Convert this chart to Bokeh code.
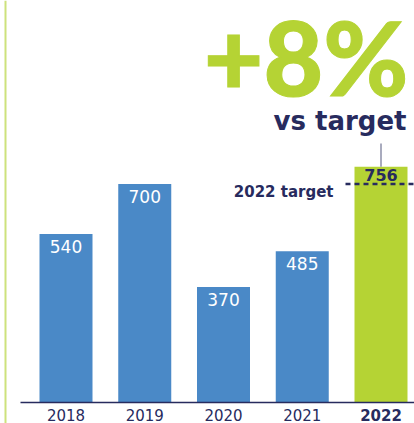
from bokeh.plotting import figure
from bokeh.models import Range1d, ColumnDataSource
from bokeh.core.properties import value
from bokeh.embed import file_html
from bokeh.resources import INLINE

# ---- data ----
years = ["2018", "2019", "2020", "2021", "2022"]
values = [540, 700, 370, 485, 756]
target = 700

# ---- style ----
BLUE = "#4a89c7"
GREEN = "#b5d334"
NAVY = "#272b5e"
LIGHT_GREEN = "#cde27c"
W, H = 414, 423
SPACING = 78.75      # px between bar centres
FIRST = 65.5         # px of first bar centre
BASE = 402           # px (from top) of baseline
SCALE = 0.312        # px per unit

def dx(px):
    return (px - FIRST) / SPACING

def dy(px_from_top):
    return (BASE - px_from_top) / SCALE

xr = Range1d(dx(0), dx(W))
yr = Range1d(dy(H), dy(0))

p = figure(width=W, height=H, x_range=xr, y_range=yr,
           x_axis_type=None, y_axis_type=None,
           toolbar_location=None, output_backend="svg",
           min_border=0, outline_line_color=None,
           background_fill_color="white", border_fill_color="white")

n = len(years)
xs = list(range(n))
last = n - 1
src = ColumnDataSource(dict(
    x=xs[:last], top=values[:last], year=years[:last],
    label=[str(v) for v in values[:last]],
))
src_last = ColumnDataSource(dict(
    x=[xs[last]], top=[values[last]], year=[years[last]],
    label=[str(values[last])],
))

# left accent line
p.segment(x0=[dx(5)], y0=[dy(H)], x1=[dx(5)], y1=[dy(0)],
          line_color=LIGHT_GREEN, line_width=2)

# bars
bw = 53 / SPACING
p.vbar(x="x", top="top", width=bw, fill_color=BLUE, line_color=None, source=src)
p.vbar(x="x", top="top", width=bw, fill_color=GREEN, line_color=None, source=src_last)

# baseline
p.segment(x0=[dx(20)], y0=[0], x1=[dx(W)], y1=[0], line_color=NAVY, line_width=1.5)

# value labels
p.text(x="x", y="top", text="label", source=src, text_align="center",
       text_baseline="alphabetic", y_offset=12.5, text_color="white",
       text_font=value("DejaVu Sans"), text_font_size="17px")
p.text(x="x", y="top", text="label", source=src_last, text_align="center",
       text_baseline="alphabetic", y_offset=8, text_color=NAVY,
       text_font=value("DejaVu Sans"), text_font_size="16px",
       text_font_style="bold")

# year labels
p.text(x="x", y=0, text="year", source=src, text_align="center",
       text_baseline="alphabetic", y_offset=12, text_color=NAVY,
       text_font=value("DejaVu Sans"), text_font_size="15px")
p.text(x="x", y=0, text="year", source=src_last, text_align="center",
       text_baseline="alphabetic", y_offset=12, text_color=NAVY,
       text_font=value("DejaVu Sans"), text_font_size="15px",
       text_font_style="bold")

# target dashed line
x_start = last - bw / 2 - 9 / SPACING
p.segment(x0=[x_start], y0=[target], x1=[dx(W)], y1=[target],
          line_color=NAVY, line_width=2.5, line_dash="5 4")
p.text(x=[x_start - 12 / SPACING], y=[target], text=[f"{years[-1]} target"],
       text_align="right", text_baseline="alphabetic", y_offset=8,
       text_color=NAVY, text_font=value("DejaVu Sans"), text_font_size="15px",
       text_font_style="bold")

# connector tick above last bar
p.segment(x0=[last], y0=[values[-1]], x1=[last], y1=[dy(143)],
          line_color="#8d8fa8", line_width=1.5)

# headline
pct = round((values[-1] / target - 1) * 100)
p.text(x=[dx(408)], y=[dy(55)], text=[f"+{pct}%"], text_align="right",
       text_baseline="alphabetic", text_color=GREEN,
       text_font=value("Lato Black"), text_font_size="103px",
       text_font_style="bold", text_outline_color=GREEN)
p.text(x=[dx(406)], y=[dy(120)], text=["vs target"], text_align="right",
       text_baseline="alphabetic", text_color=NAVY,
       text_font=value("DejaVu Sans"), text_font_size="26px",
       text_font_style="bold")

open("out.html", "w").write(file_html(p, INLINE))
